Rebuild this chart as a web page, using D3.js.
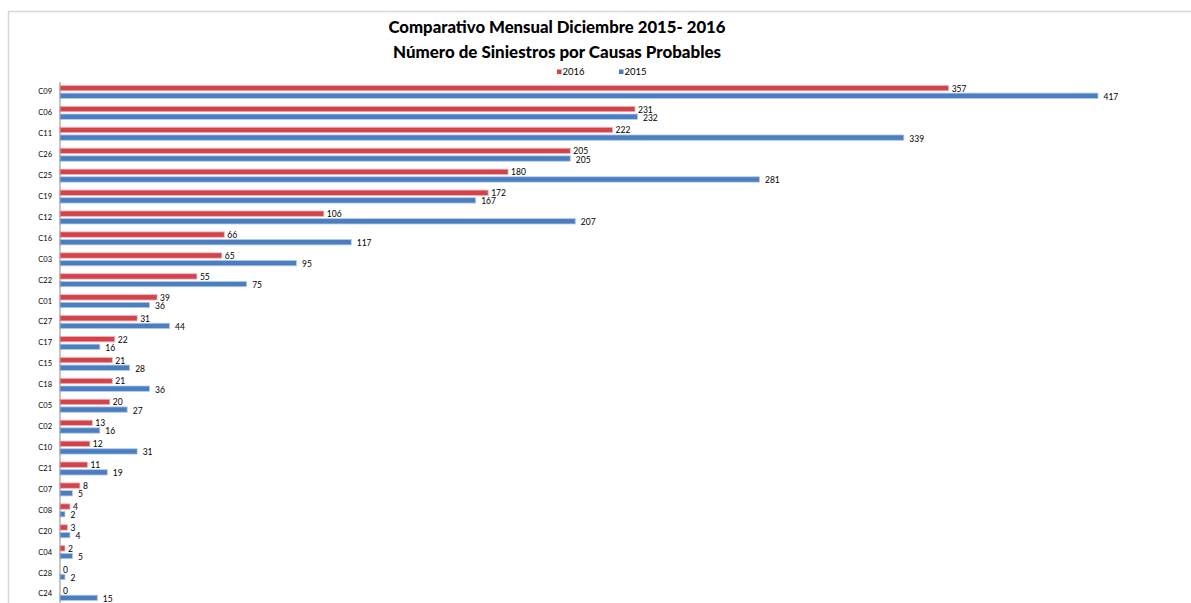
<!DOCTYPE html>
<html>
<head>
<meta charset="utf-8">
<script src="https://cdn.jsdelivr.net/npm/d3@7"></script>
<style>
  html, body { margin: 0; padding: 0; background: #fff; }
  svg { display: block; }
</style>
</head>
<body>
<svg id="chart" width="1191" height="603"></svg>
<script>
// Causes ordered as plotted, top to bottom
const causes = ["C09","C06","C11","C26","C25","C19","C12","C16","C03","C22","C01","C27","C17",
                "C15","C18","C05","C02","C10","C21","C07","C08","C20","C04","C28","C24"];
const values2016 = [357,231,222,205,180,172,106,66,65,55,39,31,22,21,21,20,13,12,11,8,4,3,2,0,0];
const values2015 = [417,232,339,205,281,167,207,117,95,75,36,44,16,28,36,27,16,31,19,5,2,4,5,2,15];
const seriesNames = ["2016", "2015"];
const titleLines = ["Comparativo Mensual Diciembre 2015- 2016", "Número de Siniestros por Causas Probables"];

const colors = { "2016": "#d4424c", "2015": "#4a7ec1" };
const strokes = { "2016": "#efb3b7", "2015": "#b3cbe9" };
const font = "Lato, 'Open Sans', sans-serif";

const rows = causes.map((c, i) => ({ cause: c, "2016": values2016[i], "2015": values2015[i] }));

const svg = d3.select("#chart");

// outer chart frame (left and top edges visible)
svg.append("path")
  .attr("d", "M8.5,603 V11.5 H1191")
  .attr("fill", "none")
  .attr("stroke", "#d6d6d6")
  .attr("stroke-width", 1.5);

const x = d3.scaleLinear()
  .domain([0, d3.max(values2015.concat(values2016))])
  .range([60, 1098]);

const y = d3.scaleBand()
  .domain(causes)
  .range([81.5, 81.5 + causes.length * 20.92])
  .paddingInner(0)
  .paddingOuter(0);

const sub = d3.scaleBand()
  .domain(seriesNames)
  .range([-6.5, 6.5])
  .paddingInner(0.3);

// titles
const titleY = [32.5, 57.5];
const titleW = [337, 328];
titleLines.forEach((t, i) => {
  svg.append("text")
    .attr("x", 557)
    .attr("y", titleY[i])
    .attr("text-anchor", "middle")
    .attr("font-family", font)
    .attr("font-weight", 900)
    .attr("font-size", 17.5)
    .attr("textLength", titleW[i])
    .attr("lengthAdjust", "spacingAndGlyphs")
    .attr("fill", "#000")
    .text(t);
});

// legend
const legendX = { "2016": 557, "2015": 619 };
const lg = svg.append("g").selectAll("g").data(seriesNames).join("g")
  .attr("transform", d => `translate(${legendX[d]},72)`);
lg.append("rect")
  .attr("x", 0).attr("y", -2.5).attr("width", 4.5).attr("height", 4.5)
  .attr("fill", d => colors[d]);
lg.append("text")
  .attr("x", 5.5).attr("y", 0)
  .attr("dy", "0.35em")
  .attr("font-family", font)
  .attr("font-size", 9.5)
  .attr("fill", "#000")
  .text(d => d);

// bars
const groups = svg.append("g").selectAll("g").data(rows).join("g")
  .attr("transform", d => `translate(0,${y(d.cause) + y.bandwidth() / 2})`);

groups.selectAll("rect")
  .data(d => seriesNames.map(s => ({ s, v: d[s] })))
  .join("rect")
  .attr("x", x(0))
  .attr("y", d => sub(d.s))
  .attr("width", d => x(d.v) - x(0))
  .attr("height", sub.bandwidth())
  .attr("fill", d => colors[d.s])
  .attr("stroke", d => d.v > 0 ? strokes[d.s] : "none")
  .attr("stroke-width", 0.8);

// value labels
const labelDx = { "2016": 3, "2015": 5.5 };
const labelDy = { "2016": 0.5, "2015": 1 };
groups.selectAll("text")
  .data(d => seriesNames.map(s => ({ s, v: d[s] })))
  .join("text")
  .attr("x", d => x(d.v) + labelDx[d.s])
  .attr("y", d => sub(d.s) + sub.bandwidth() / 2 + labelDy[d.s])
  .attr("dy", "0.35em")
  .attr("font-family", font)
  .attr("font-size", 8.5)
  .attr("fill", "#000")
  .text(d => d.v);

// category axis
const axis = svg.append("g")
  .attr("transform", `translate(${x(0)},0)`)
  .call(d3.axisLeft(y).tickSize(0).tickPadding(8));
axis.select(".domain").remove();
axis.selectAll("text")
  .attr("font-family", font)
  .attr("font-size", 7.5)
  .attr("fill", "#000");

svg.append("line")
  .attr("x1", x(0)).attr("x2", x(0))
  .attr("y1", 82).attr("y2", 603)
  .attr("stroke", "#8c8c8c")
  .attr("stroke-width", 1);
</script>
</body>
</html>
